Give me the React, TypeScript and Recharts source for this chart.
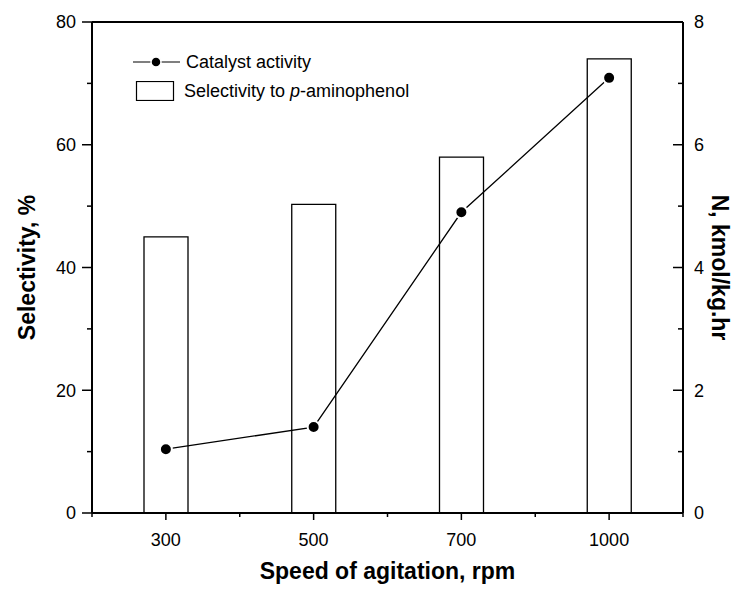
import React from 'react';
import { ComposedChart, Bar, Line, XAxis, YAxis, Legend, Label } from 'recharts';

const speeds = ['300', '500', '700', '1000'];
const selectivity = [45, 50.3, 58, 74];
const activity = [1.04, 1.4, 4.9, 7.09];

const selectivityTicks = [0, 10, 20, 30, 40, 50, 60, 70, 80];
const activityTicks = [0, 1, 2, 3, 4, 5, 6, 7, 8];

const chartData = speeds.map((speed, i) => ({
  speed,
  selectivity: selectivity[i],
  activity: activity[i],
}));

const FONT = '"Liberation Sans", Arial, Helvetica, sans-serif';
const W = 735;
const H = 589;
const LEFT_W = 92;
const RIGHT_W = 52;
const TOP = 22;
const BOTTOM_H = 76;
const BAND = (W - LEFT_W - RIGHT_W) / speeds.length;

// ticks drawn by hand so majors/minors and in/out directions can differ
const LeftTick = (props: any) => {
  const { x, y, payload } = props;
  const major = payload.value % 20 === 0;
  return (
    <g>
      <line x1={x} x2={x - (major ? 10 : 5)} y1={y} y2={y} stroke="#000" strokeWidth={1.5} />
      {major && (
        <text x={x - 16} y={y} dy="0.35em" textAnchor="end" fontSize={18} fontFamily={FONT} fill="#000">
          {payload.value}
        </text>
      )}
    </g>
  );
};

const RightTick = (props: any) => {
  const { x, y, payload } = props;
  const major = payload.value % 2 === 0;
  return (
    <g>
      <line x1={x} x2={x - (major ? 10 : 5)} y1={y} y2={y} stroke="#000" strokeWidth={1.5} />
      {major && (
        <text x={x + 11} y={y} dy="0.35em" textAnchor="start" fontSize={18} fontFamily={FONT} fill="#000">
          {payload.value}
        </text>
      )}
    </g>
  );
};

const BottomTick = (props: any) => {
  const { x, y, payload, index } = props;
  const last = index === speeds.length - 1;
  return (
    <g>
      <line x1={x} x2={x} y1={y} y2={y + 7} stroke="#000" strokeWidth={1.5} />
      <line x1={x - BAND / 2} x2={x - BAND / 2} y1={y} y2={y + 4} stroke="#000" strokeWidth={1.5} />
      {last && <line x1={x + BAND / 2} x2={x + BAND / 2} y1={y} y2={y + 4} stroke="#000" strokeWidth={1.5} />}
      <text x={x} y={y + 27} dy="0.35em" textAnchor="middle" fontSize={18} fontFamily={FONT} fill="#000">
        {payload.value}
      </text>
    </g>
  );
};

const LegendBox = () => (
  <div style={{ fontFamily: FONT, fontSize: 18, color: '#000' }}>
    <div style={{ display: 'flex', alignItems: 'center', height: 24 }}>
      <svg width={53} height={14} style={{ display: 'block' }}>
        <line x1={0} x2={47} y1={7} y2={7} stroke="#000" strokeWidth={1.2} />
        <circle cx={23} cy={7} r={5} fill="#000" stroke="#fff" strokeWidth={1.5} />
      </svg>
      <span>Catalyst activity</span>
    </div>
    <div style={{ display: 'flex', alignItems: 'center', height: 24, marginTop: 5 }}>
      <svg width={51} height={20} style={{ display: 'block' }}>
        <rect x={3.5} y={0.5} width={37} height={19} fill="#fff" stroke="#000" strokeWidth={1.2} />
      </svg>
      <span>
        Selectivity to <i>p</i>-aminophenol
      </span>
    </div>
  </div>
);

export default function App() {
  return (
    <div style={{ position: 'absolute', left: 0, top: 0, width: W, height: H, background: '#fff' }}>
      <ComposedChart width={W} height={H} data={chartData} margin={{ top: 0, right: 0, bottom: 0, left: 0 }}>
        <XAxis
          dataKey="speed"
          xAxisId="main"
          height={BOTTOM_H}
          tickSize={0}
          tickMargin={0}
          interval={0}
          tick={<BottomTick />}
          axisLine={{ stroke: '#000', strokeWidth: 2 }}
        >
          <Label
            content={(p: any) => {
              const vb = p.viewBox;
              return (
                <text x={vb.x + vb.width / 2} y={vb.y + 58} dy="0.35em" textAnchor="middle" fontSize={23} fontWeight="bold" fontFamily={FONT} fill="#000">
                  Speed of agitation, rpm
                </text>
              );
            }}
          />
        </XAxis>
        <XAxis
          dataKey="speed"
          xAxisId="top"
          orientation="top"
          height={TOP}
          tick={false}
          tickLine={false}
          axisLine={{ stroke: '#000', strokeWidth: 2 }}
        />
        <YAxis
          yAxisId="sel"
          width={LEFT_W}
          domain={[0, 80]}
          ticks={selectivityTicks}
          interval={0}
          tickSize={0}
          tickMargin={0}
          tick={<LeftTick />}
          axisLine={{ stroke: '#000', strokeWidth: 2 }}
        >
          <Label
            content={(p: any) => {
              const vb = p.viewBox;
              const cx = 27;
              const cy = vb.y + vb.height / 2;
              return (
                <text x={cx} y={cy} dy="0.35em" textAnchor="middle" transform={`rotate(-90 ${cx} ${cy})`} fontSize={23} fontWeight="bold" fontFamily={FONT} fill="#000">
                  Selectivity, %
                </text>
              );
            }}
          />
        </YAxis>
        <YAxis
          yAxisId="act"
          orientation="right"
          width={RIGHT_W}
          domain={[0, 8]}
          ticks={activityTicks}
          interval={0}
          tickSize={0}
          tickMargin={0}
          tick={<RightTick />}
          axisLine={{ stroke: '#000', strokeWidth: 2 }}
        >
          <Label
            content={(p: any) => {
              const vb = p.viewBox;
              const cx = vb.x + 37;
              const cy = vb.y + vb.height / 2;
              return (
                <text x={cx} y={cy} dy="0.35em" textAnchor="middle" transform={`rotate(90 ${cx} ${cy})`} fontSize={23} fontWeight="bold" fontFamily={FONT} fill="#000">
                  N, kmol/kg.hr
                </text>
              );
            }}
          />
        </YAxis>
        <Legend
          layout="horizontal"
          verticalAlign="middle"
          align="center"
          content={<LegendBox />}
          wrapperStyle={{ position: 'absolute', left: 133, top: 50, width: 'auto', height: 'auto' }}
        />
        <Bar
          dataKey="selectivity"
          xAxisId="main"
          yAxisId="sel"
          barSize={44}
          fill="#fff"
          stroke="#000"
          strokeWidth={1.3}
          isAnimationActive={false}
        />
        <Line
          dataKey="activity"
          xAxisId="main"
          yAxisId="act"
          type="linear"
          stroke="#000"
          strokeWidth={1.3}
          dot={{ r: 6, fill: '#000', stroke: '#fff', strokeWidth: 2 }}
          activeDot={false}
          isAnimationActive={false}
        />
      </ComposedChart>
    </div>
  );
}
